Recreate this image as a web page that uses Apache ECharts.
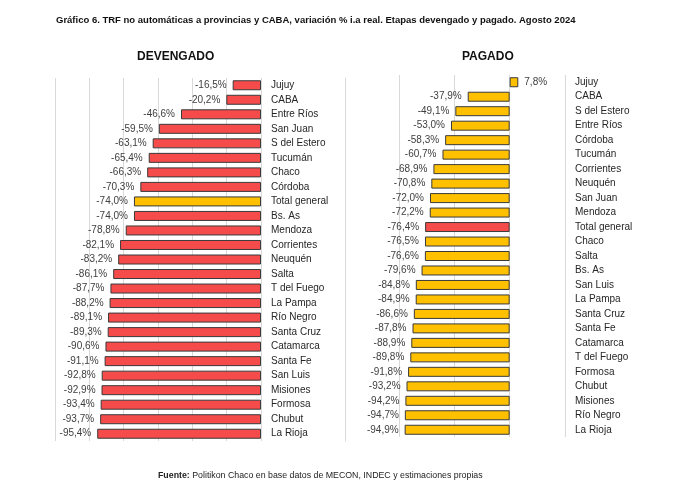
<!DOCTYPE html>
<html>
<head>
<meta charset="utf-8">
<script src="https://cdn.jsdelivr.net/npm/echarts@6/dist/echarts.min.js"></script>
<style>
  html, body { margin: 0; padding: 0; background: #fff; }
  #chart { width: 687px; height: 497px; }
</style>
</head>
<body>
<div id="chart"></div>
<script>
// TRF no automaticas - devengado y pagado, agosto 2024

var devCategories = ['Jujuy', 'CABA', 'Entre Ríos', 'San Juan', 'S del Estero', 'Tucumán', 'Chaco', 'Córdoba',
    'Total general', 'Bs. As', 'Mendoza', 'Corrientes', 'Neuquén', 'Salta', 'T del Fuego', 'La Pampa',
    'Río Negro', 'Santa Cruz', 'Catamarca', 'Santa Fe', 'San Luis', 'Misiones', 'Formosa', 'Chubut', 'La Rioja'];
var devValues = [-16.5, -20.2, -46.6, -59.5, -63.1, -65.4, -66.3, -70.3, -74.0, -74.0, -78.8, -82.1, -83.2,
    -86.1, -87.7, -88.2, -89.1, -89.3, -90.6, -91.1, -92.8, -92.9, -93.4, -93.7, -95.4];

var pagCategories = ['Jujuy', 'CABA', 'S del Estero', 'Entre Ríos', 'Córdoba', 'Tucumán', 'Corrientes', 'Neuquén',
    'San Juan', 'Mendoza', 'Total general', 'Chaco', 'Salta', 'Bs. As', 'San Luis', 'La Pampa', 'Santa Cruz',
    'Santa Fe', 'Catamarca', 'T del Fuego', 'Formosa', 'Chubut', 'Misiones', 'Río Negro', 'La Rioja'];
var pagValues = [7.8, -37.9, -49.1, -53.0, -58.3, -60.7, -68.9, -70.8, -72.0, -72.2, -76.4, -76.5, -76.6,
    -79.6, -84.8, -84.9, -86.6, -87.8, -88.9, -89.8, -91.8, -93.2, -94.2, -94.7, -94.9];

var RED = '#f54b4b';
var YELLOW = '#ffc000';
var GRID_COLOR = '#d9d9d9';
var FONT = 'Liberation Sans';

function fmt(p) {
    return p.value.toFixed(1).replace('.', ',') + '%';
}

function buildData(cats, vals, color, highlight) {
    return vals.map(function (v, i) {
        return {
            value: v,
            itemStyle: { color: cats[i] === 'Total general' ? highlight : color },
            label: { position: v < 0 ? 'left' : 'right' }
        };
    });
}

function valueAxis(gridIndex, min, max, interval) {
    return {
        type: 'value',
        gridIndex: gridIndex,
        min: min,
        max: max,
        interval: interval,
        axisLabel: { show: false },
        axisLine: { show: false },
        axisTick: { show: false },
        splitLine: { show: true, lineStyle: { color: GRID_COLOR, width: 1 } }
    };
}

function catAxis(gridIndex, cats) {
    return {
        type: 'category',
        gridIndex: gridIndex,
        data: cats,
        inverse: true,
        position: 'right',
        axisLine: { show: false },
        axisTick: { show: false },
        axisLabel: { margin: 10, color: '#262626', fontSize: 10, fontFamily: FONT }
    };
}

function barSeries(axisIndex, data) {
    return {
        type: 'bar',
        xAxisIndex: axisIndex,
        yAxisIndex: axisIndex,
        data: data,
        barWidth: 10,
        itemStyle: { borderColor: '#3a3a3a', borderWidth: 1 },
        label: {
            show: true,
            distance: 6,
            color: '#404040',
            fontSize: 10,
            fontFamily: FONT,
            formatter: fmt
        },
        silent: true
    };
}

var borderAxis = catAxis(0, devCategories);
borderAxis.offset = 84;
borderAxis.axisLabel = { show: false };
borderAxis.axisLine = { show: true, lineStyle: { color: GRID_COLOR, width: 1 } };

var option = {
    backgroundColor: '#fff',
    animation: false,
    title: [
        {
            text: 'Gráfico 6. TRF no automáticas a provincias y CABA, variación % i.a real. Etapas devengado y pagado. Agosto 2024',
            left: 56,
            top: 15,
            padding: 0,
            textStyle: { fontSize: 9.5, fontWeight: 'bold', color: '#111', fontFamily: FONT }
        },
        {
            text: 'DEVENGADO',
            left: 137,
            top: 51,
            padding: 0,
            textStyle: { fontSize: 12, fontWeight: 'bold', color: '#111', fontFamily: FONT }
        },
        {
            text: 'PAGADO',
            left: 462,
            top: 51,
            padding: 0,
            textStyle: { fontSize: 12, fontWeight: 'bold', color: '#111', fontFamily: FONT }
        },
        {
            text: '{b|Fuente:} Politikon Chaco en base datos de MECON, INDEC y estimaciones propias',
            left: 158,
            top: 471,
            padding: 0,
            textStyle: {
                fontSize: 8.8, fontWeight: 'normal', color: '#222', fontFamily: FONT,
                rich: { b: { fontSize: 8.8, fontWeight: 'bold', color: '#222', fontFamily: FONT } }
            }
        }
    ],
    grid: [
        { left: 55, width: 206, top: 78, height: 363 },
        { left: 399, width: 166, top: 75, height: 362 }
    ],
    xAxis: [
        valueAxis(0, -120, 0, 20),
        valueAxis(1, -100, 50, 50)
    ],
    yAxis: [
        catAxis(0, devCategories),
        catAxis(1, pagCategories),
        borderAxis
    ],
    series: [
        barSeries(0, buildData(devCategories, devValues, RED, YELLOW)),
        barSeries(1, buildData(pagCategories, pagValues, YELLOW, RED))
    ]
};

var chart = echarts.init(document.getElementById('chart'));
chart.setOption(option);
</script>
</body>
</html>
